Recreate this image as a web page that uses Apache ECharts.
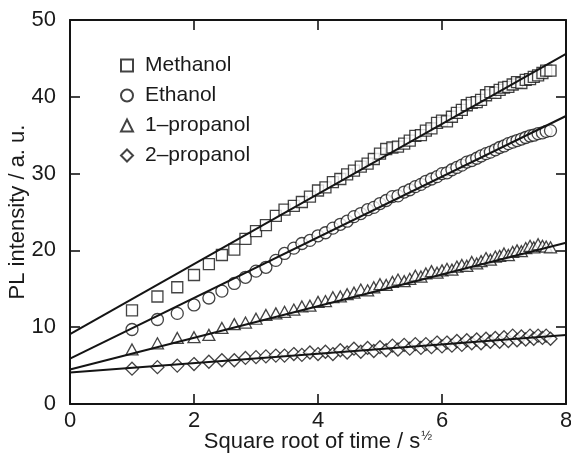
<!DOCTYPE html>
<html>
<head>
<meta charset="utf-8">
<script src="https://cdn.jsdelivr.net/npm/echarts@6/dist/echarts.min.js"></script>
<style>
  html, body { margin: 0; padding: 0; background: #fff; }
  #chart { width: 571px; height: 456px; }
</style>
</head>
<body>
<div id="chart"></div>
<script>
// Square root of elapsed time (s^1/2), one sample per second
const sqrtTime = [1.00, 1.41, 1.73, 2.00, 2.24, 2.45, 2.65, 2.83, 3.00, 3.16,
  3.32, 3.46, 3.61, 3.74, 3.87, 4.00, 4.12, 4.24, 4.36, 4.47,
  4.58, 4.69, 4.80, 4.90, 5.00, 5.10, 5.20, 5.29, 5.39, 5.48,
  5.57, 5.66, 5.74, 5.83, 5.92, 6.00, 6.08, 6.16, 6.24, 6.32,
  6.40, 6.48, 6.56, 6.63, 6.71, 6.78, 6.86, 6.93, 7.00, 7.07,
  7.14, 7.21, 7.28, 7.35, 7.42, 7.48, 7.55, 7.62, 7.68, 7.75];

// PL intensity (a. u.) for each solvent
const methanol = [12.2, 14.0, 15.2, 16.8, 18.2, 19.4, 20.1, 21.5, 22.5, 23.3,
  24.5, 25.3, 25.8, 26.3, 27.0, 27.8, 28.2, 28.9, 29.3, 29.9,
  30.4, 30.9, 31.3, 31.9, 32.6, 33.2, 33.4, 33.5, 33.9, 34.3,
  34.9, 35.0, 35.6, 35.9, 36.6, 36.9, 36.8, 37.4, 37.9, 38.3,
  38.9, 39.2, 39.3, 39.6, 40.2, 40.6, 40.5, 40.9, 41.2, 41.3,
  41.6, 41.9, 41.8, 42.2, 42.3, 42.6, 42.8, 43.1, 43.4, 43.4];
const ethanol = [9.7, 11.0, 11.8, 12.9, 13.8, 14.7, 15.7, 16.5, 17.3, 17.8,
  18.7, 19.6, 20.3, 20.9, 21.3, 21.9, 22.3, 22.9, 23.4, 23.8,
  24.4, 24.8, 25.3, 25.6, 26.1, 26.5, 27.0, 27.1, 27.6, 27.9,
  28.3, 28.6, 29.0, 29.3, 29.6, 30.0, 30.1, 30.5, 30.8, 31.1,
  31.5, 31.7, 32.0, 32.3, 32.6, 32.8, 33.1, 33.4, 33.6, 33.9,
  34.1, 34.3, 34.5, 34.7, 34.9, 35.0, 35.2, 35.3, 35.5, 35.6];
const propanol1 = [7.1, 7.9, 8.6, 8.7, 9.0, 9.9, 10.4, 10.6, 11.1, 11.6,
  11.8, 12.0, 12.3, 12.7, 12.8, 13.3, 13.4, 13.9, 14.0, 14.3,
  14.5, 14.9, 14.8, 15.2, 15.6, 15.5, 15.9, 16.2, 16.0, 16.3,
  16.7, 16.6, 17.0, 17.3, 17.1, 17.4, 17.6, 17.5, 17.9, 18.1,
  18.0, 18.5, 18.3, 18.6, 19.0, 18.8, 19.2, 19.3, 19.6, 19.4,
  19.8, 20.0, 19.9, 20.3, 20.6, 20.4, 20.8, 20.6, 20.5, 20.4];
const propanol2 = [4.6, 4.8, 5.0, 5.2, 5.5, 5.7, 5.7, 6.0, 6.1, 6.2,
  6.3, 6.3, 6.5, 6.4, 6.7, 6.5, 6.8, 6.5, 7.0, 6.7,
  7.2, 6.8, 7.3, 6.9, 7.4, 7.0, 7.6, 7.1, 7.7, 7.2,
  7.8, 7.3, 7.8, 7.4, 8.0, 7.5, 8.0, 7.6, 8.2, 7.7,
  8.3, 7.9, 8.4, 7.9, 8.5, 8.1, 8.6, 8.1, 8.7, 8.2,
  8.9, 8.3, 8.8, 8.4, 8.9, 8.5, 8.9, 8.6, 8.9, 8.5];

// Linear fits: [x, y] end points
const fitX = [0, 8];
const fitMethanol = [9.1, 45.6];
const fitEthanol = [5.9, 37.5];
const fitPropanol1 = [4.5, 21.0];
const fitPropanol2 = [4.1, 9.0];

const names = ['Methanol', 'Ethanol', '1\u2013propanol', '2\u2013propanol'];
const symbols = ['rect', 'circle', 'triangle', 'diamond'];
const symbolSizes = [[11, 11], 12, [12, 11], [13, 13]];
const values = [methanol, ethanol, propanol1, propanol2];
const fits = [fitMethanol, fitEthanol, fitPropanol1, fitPropanol2];

const ink = '#141414';
const textInk = '#1a1a1a';
const font = '"Liberation Sans", Arial, sans-serif';

function pairs(xs, ys) { return xs.map((x, i) => [x, ys[i]]); }

const series = [];
names.forEach((name, i) => {
  series.push({
    name: name,
    type: 'scatter',
    data: pairs(sqrtTime, values[i]),
    symbol: symbols[i],
    symbolSize: symbolSizes[i],
    itemStyle: { color: '#fff', borderColor: ink, borderWidth: 1.3 },
    z: 2
  });
});
fits.forEach((f) => {
  series.push({
    type: 'line',
    data: pairs(fitX, f),
    symbol: 'none',
    lineStyle: { color: ink, width: 2 },
    silent: true,
    z: 3
  });
});

const axisLine = { show: true, onZero: false, lineStyle: { color: ink, width: 2 } };
const axisTick = { show: true, inside: true, length: 10, lineStyle: { color: ink, width: 1.6 } };

const chart = echarts.init(document.getElementById('chart'), null, { renderer: 'canvas' });
chart.setOption({
  animation: false,
  backgroundColor: '#fff',
  textStyle: { fontFamily: font },
  grid: { left: 70, right: 5, top: 20, bottom: 52, containLabel: false, outerBoundsMode: 'none' },
  legend: {
    orient: 'vertical',
    left: 115,
    top: 50,
    itemWidth: 12,
    itemHeight: 12,
    itemGap: 9,
    data: names,
    textStyle: { fontSize: 21, color: textInk, fontFamily: font, lineHeight: 21, padding: [0, 0, 0, 7] }
  },
  xAxis: [{
    type: 'value', min: 0, max: 8, interval: 2,
    axisLine: axisLine, axisTick: axisTick, splitLine: { show: false },
    axisLabel: { fontSize: 22, color: textInk, margin: 6, fontFamily: font },
    name: '{t|Square root of time / s}{s|\u00bd}',
    nameLocation: 'middle',
    nameGap: 26,
    nameMoveOverlap: false,
    nameTextStyle: {
      fontFamily: font,
      rich: {
        t: { fontSize: 22, color: textInk, fontFamily: font },
        s: { fontSize: 13, color: textInk, fontFamily: font, padding: [0, 0, 11, 1] }
      }
    }
  }, {
    type: 'value', min: 0, max: 8, interval: 2, position: 'top',
    axisLine: axisLine, axisTick: axisTick, axisLabel: { show: false }, splitLine: { show: false }
  }],
  yAxis: [{
    type: 'value', min: 0, max: 50, interval: 10,
    axisLine: axisLine, axisTick: axisTick, splitLine: { show: false },
    axisLabel: { fontSize: 22, color: textInk, margin: 14, fontFamily: font },
    name: 'PL intensity / a. u.',
    nameLocation: 'middle',
    nameGap: 41,
    nameMoveOverlap: false,
    nameTextStyle: { fontSize: 22, color: textInk, fontFamily: font }
  }, {
    type: 'value', min: 0, max: 50, interval: 10, position: 'right',
    axisLine: axisLine, axisTick: axisTick, axisLabel: { show: false }, splitLine: { show: false }
  }],
  series: series
});
</script>
</body>
</html>
